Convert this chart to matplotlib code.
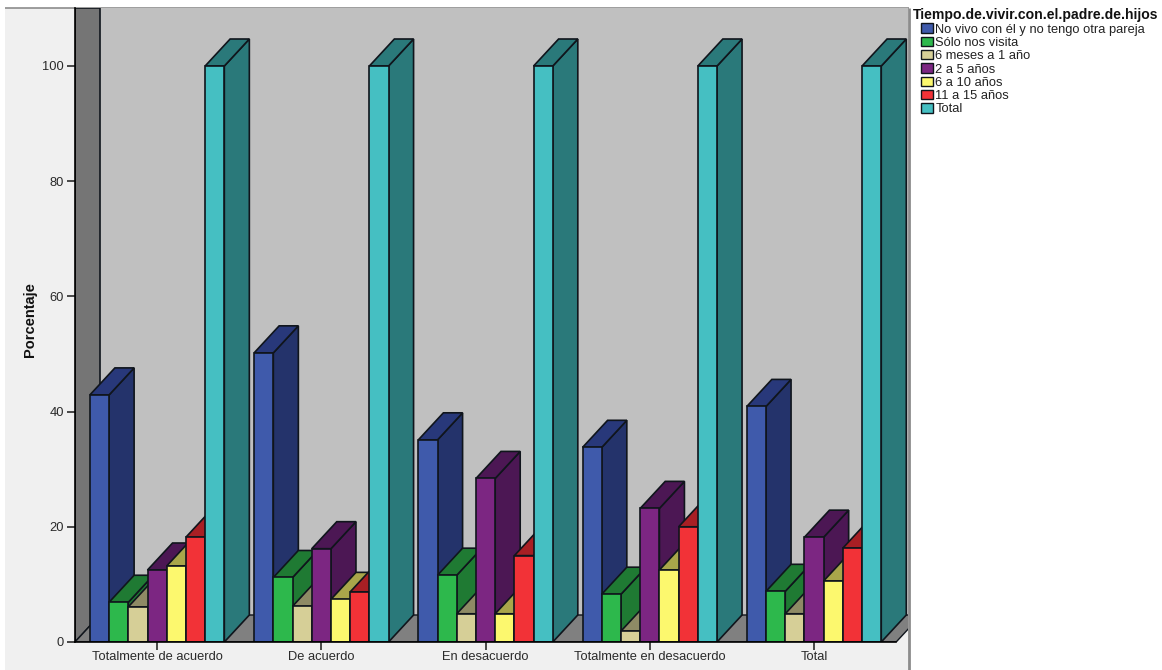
"""
Clustered pseudo-3D bars: agreement level by time living with the children's father
"""
from matplotlib.pyplot import figure
from matplotlib.patches import Patch, Polygon, Rectangle
from numpy import arange

CATEGORIES = ["Totalmente de acuerdo", "De acuerdo", "En desacuerdo",
              "Totalmente en desacuerdo", "Total"]
SERIES = ["No vivo con él y no tengo otra pareja", "Sólo nos visita", "6 meses a 1 año",
          "2 a 5 años", "6 a 10 años", "11 a 15 años", "Total"]
NO_VIVE = [42.9, 50.2, 35.1, 33.8, 40.9]
VISITA = [6.9, 11.2, 11.6, 8.3, 8.8]
MESES = [6.1, 6.2, 4.9, 1.9, 4.9]
ANIOS_2_5 = [12.5, 16.2, 28.4, 23.2, 18.2]
ANIOS_6_10 = [13.2, 7.4, 4.9, 12.5, 10.6]
ANIOS_11_15 = [18.2, 8.7, 15.0, 20.0, 16.3]
TOTAL = [100, 100, 100, 100, 100]
VALUES = [NO_VIVE, VISITA, MESES, ANIOS_2_5, ANIOS_6_10, ANIOS_11_15, TOTAL]

FRONT = ["#3f5aab", "#2db84c", "#d6cf97", "#7c2682", "#fcf86e", "#f23237", "#45bfc2"]
TOP = ["#28387a", "#1f7a33", "#8e8a65", "#4c1754", "#a9a64a", "#a81f24", "#2a797a"]
SIDE = ["#24336b", "#1f7a33", "#8e8a65", "#4c1754", "#a9a64a", "#a81f24", "#2a797a"]
EDGE = "#10151c"
FONT = "Liberation Sans"

WIDTH, HEIGHT = 1162, 670
BAR_W = 19.2 / 164.2
DEPTH_X = 25 / 164.2
DEPTH_Y = 27 / 5.76
X_MIN, X_MAX = -0.5, 4.572
Y_TOP = 634 / 5.76


def draw_walls(axes):
    """
    side wall, floor and back wall behind the bars
    """
    axes.add_patch(Polygon([(X_MIN + DEPTH_X, DEPTH_Y), (X_MAX, DEPTH_Y), (X_MAX, Y_TOP),
                            (X_MIN + DEPTH_X, Y_TOP)], fc="#c0c0c0", ec="none", zorder=1))
    axes.add_patch(Polygon([(X_MIN, 0), (X_MIN + DEPTH_X, DEPTH_Y), (X_MIN + DEPTH_X, Y_TOP),
                            (X_MIN, Y_TOP)], fc="#757575", ec=EDGE, lw=1.2, zorder=2))
    # the floor runs past the right edge of the axes and gets clipped there
    axes.add_patch(Polygon([(X_MIN, 0), (X_MIN + DEPTH_X, DEPTH_Y), (4.5 + DEPTH_X, DEPTH_Y),
                            (4.5, 0)], fc="#808080", ec=EDGE, lw=1.0, zorder=2))


def draw_bars(axes):
    """
    each bar is a front face with top and side faces, painted left to right
    """
    order = 10
    for group in arange(len(CATEGORIES)):
        for idx, series in enumerate(VALUES):
            val = series[group]
            left = group + (idx - 3.5) * BAR_W
            right = left + BAR_W
            axes.add_patch(Polygon([(right, 0), (right + DEPTH_X, DEPTH_Y),
                                    (right + DEPTH_X, val + DEPTH_Y), (right, val)],
                                   fc=SIDE[idx], ec=EDGE, lw=1.2, zorder=order))
            axes.add_patch(Polygon([(left, val), (left + DEPTH_X, val + DEPTH_Y),
                                    (right + DEPTH_X, val + DEPTH_Y), (right, val)],
                                   fc=TOP[idx], ec=EDGE, lw=1.2, zorder=order))
            axes.bar(left, val, BAR_W, align="edge", color=FRONT[idx], edgecolor=EDGE,
                     linewidth=1.2, zorder=order + 1)
            order += 2


def main():
    """
    main wrapper function
    """
    fig = figure(figsize=(WIDTH / 100, HEIGHT / 100), dpi=100, facecolor="white")
    fig.add_artist(Rectangle((5 / WIDTH, 0), 904 / WIDTH, 662 / HEIGHT, fc="#f0f0f0",
                             ec="none", transform=fig.transFigure, zorder=-5))
    fig.add_artist(Rectangle((5 / WIDTH, 662 / HEIGHT), 904 / WIDTH, 0, fc="none", ec="#8c8c8c",
                             lw=1.2, transform=fig.transFigure, zorder=-4))
    fig.add_artist(Rectangle((909 / WIDTH, 0), 0, 662 / HEIGHT, fc="none", ec="#8c8c8c",
                             lw=2, transform=fig.transFigure, zorder=-4))

    axes = fig.add_axes([75 / WIDTH, 28 / HEIGHT, 833 / WIDTH, 634 / HEIGHT])
    axes.patch.set_visible(False)
    axes.set_xlim(X_MIN, X_MAX)
    axes.set_ylim(0, Y_TOP)

    draw_walls(axes)
    draw_bars(axes)

    for side in ["top", "right"]:
        axes.spines[side].set_visible(False)
    axes.spines["left"].set_linewidth(1.2)
    axes.spines["bottom"].set_linewidth(1.2)
    axes.spines["bottom"].set_bounds(X_MIN, 4.5)
    axes.spines["left"].set_zorder(100)
    axes.spines["bottom"].set_zorder(100)

    axes.set_yticks([0, 20, 40, 60, 80, 100])
    axes.set_xticks(arange(len(CATEGORIES)))
    axes.set_xticklabels(CATEGORIES)
    axes.tick_params(axis="both", labelsize=9.3, length=6, width=1.2, pad=2, colors="#2a2a2a",
                     labelfontfamily=FONT)
    axes.tick_params(axis="x", pad=0.5)
    axes.set_ylabel("Porcentaje", fontsize=10.5, fontweight="bold", family=FONT, color="#111111")
    axes.yaxis.set_label_coords(-38 / 833, 0.508)

    handles = [Patch(fc=FRONT[i], ec=EDGE, lw=1.0) for i in range(len(SERIES))]
    fig.legend(handles, SERIES, loc="upper left", bbox_to_anchor=(921 / WIDTH, 1 - 23.5 / HEIGHT),
               frameon=False, borderpad=0, borderaxespad=0, handlelength=0.95,
               handleheight=0.75, handletextpad=0.15, labelspacing=0.08,
               labelcolor="#222222", prop={"family": FONT, "size": 9.3})
    fig.text(913 / WIDTH, 1 - 15 / HEIGHT, "Tiempo.de.vivir.con.el.padre.de.hijos", family=FONT,
             fontweight="bold", fontsize=10.1, color="#111111", ha="left", va="center")
    fig.savefig("out.png", dpi=100)


if __name__ == "__main__":
    main()
